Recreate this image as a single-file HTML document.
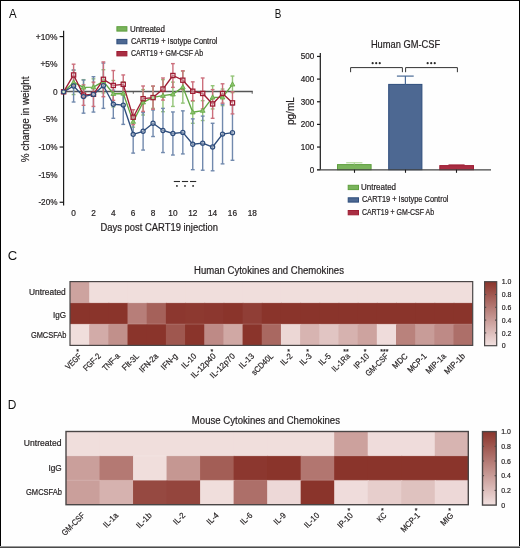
<!DOCTYPE html>
<html><head><meta charset="utf-8"><style>
html,body{margin:0;padding:0;background:#fff;}
body{width:520px;height:548px;overflow:hidden;}
svg{display:block;will-change:transform;font-family:"Liberation Sans", sans-serif;}
text{stroke:#231f20;stroke-width:0.2px;}
</style></head><body>
<svg width="520" height="548" viewBox="0 0 520 548">
<rect x="0" y="0" width="520" height="548" fill="#fefefe"/>
<text x="9.1" y="17.7" font-size="12.4" fill="#111" textLength="7.65" lengthAdjust="spacingAndGlyphs" style="stroke:none">A</text>
<line x1="63.6" y1="30.8" x2="63.6" y2="205.4" stroke="#1a1a1a" stroke-width="1.2" />
<line x1="59.6" y1="36.57" x2="63.6" y2="36.57" stroke="#1a1a1a" stroke-width="1.2" />
<line x1="59.6" y1="147.03" x2="63.6" y2="147.03" stroke="#1a1a1a" stroke-width="1.2" />
<line x1="59.6" y1="202.26" x2="63.6" y2="202.26" stroke="#1a1a1a" stroke-width="1.2" />
<text x="57.5" y="39.57" font-size="8.7" text-anchor="end" fill="#231f20" textLength="21.73" lengthAdjust="spacingAndGlyphs" >+10%</text>
<text x="57.5" y="67.19" font-size="8.7" text-anchor="end" fill="#231f20" textLength="17.11" lengthAdjust="spacingAndGlyphs" >+5%</text>
<text x="57.5" y="94.8" font-size="8.7" text-anchor="end" fill="#231f20" textLength="4.62" lengthAdjust="spacingAndGlyphs" >0</text>
<text x="57.5" y="122.41" font-size="8.7" text-anchor="end" fill="#231f20" textLength="14.51" lengthAdjust="spacingAndGlyphs" >-5%</text>
<text x="57.5" y="150.03" font-size="8.7" text-anchor="end" fill="#231f20" textLength="19.12" lengthAdjust="spacingAndGlyphs" >-10%</text>
<text x="57.5" y="177.64" font-size="8.7" text-anchor="end" fill="#231f20" textLength="19.12" lengthAdjust="spacingAndGlyphs" >-15%</text>
<text x="57.5" y="205.26" font-size="8.7" text-anchor="end" fill="#231f20" textLength="19.12" lengthAdjust="spacingAndGlyphs" >-20%</text>
<text x="73.6" y="216.1" font-size="8.6" text-anchor="middle" fill="#231f20" textLength="4.62" lengthAdjust="spacingAndGlyphs" >0</text>
<text x="93.46" y="216.1" font-size="8.6" text-anchor="middle" fill="#231f20" textLength="4.62" lengthAdjust="spacingAndGlyphs" >2</text>
<text x="113.32" y="216.1" font-size="8.6" text-anchor="middle" fill="#231f20" textLength="4.62" lengthAdjust="spacingAndGlyphs" >4</text>
<text x="133.18" y="216.1" font-size="8.6" text-anchor="middle" fill="#231f20" textLength="4.62" lengthAdjust="spacingAndGlyphs" >6</text>
<text x="153.04" y="216.1" font-size="8.6" text-anchor="middle" fill="#231f20" textLength="4.62" lengthAdjust="spacingAndGlyphs" >8</text>
<text x="172.9" y="216.1" font-size="8.6" text-anchor="middle" fill="#231f20" textLength="9.23" lengthAdjust="spacingAndGlyphs" >10</text>
<text x="192.76" y="216.1" font-size="8.6" text-anchor="middle" fill="#231f20" textLength="9.23" lengthAdjust="spacingAndGlyphs" >12</text>
<text x="212.62" y="216.1" font-size="8.6" text-anchor="middle" fill="#231f20" textLength="9.23" lengthAdjust="spacingAndGlyphs" >14</text>
<text x="232.48" y="216.1" font-size="8.6" text-anchor="middle" fill="#231f20" textLength="9.23" lengthAdjust="spacingAndGlyphs" >16</text>
<text x="252.34" y="216.1" font-size="8.6" text-anchor="middle" fill="#231f20" textLength="9.23" lengthAdjust="spacingAndGlyphs" >18</text>
<text x="100.57" y="230.5" font-size="10.1" fill="#231f20" textLength="117.48" lengthAdjust="spacingAndGlyphs" >Days post CART19 injection</text>
<text transform="translate(29.3,119.35) rotate(-90)" font-size="10.1" text-anchor="middle" fill="#231f20" textLength="85.6" lengthAdjust="spacingAndGlyphs">% change in weight</text>
<line x1="63.6" y1="91.5" x2="252.8" y2="91.5" stroke="#555" stroke-width="1.3" />
<line x1="133.3" y1="91.5" x2="133.3" y2="93.8" stroke="#555" stroke-width="0.9" />
<line x1="252.2" y1="91.5" x2="252.2" y2="93.8" stroke="#555" stroke-width="0.9" />
<line x1="73.6" y1="70.26" x2="73.6" y2="94.56" stroke="#93c477" stroke-width="1.4" />
<line x1="71.7" y1="70.26" x2="75.5" y2="70.26" stroke="#93c477" stroke-width="1.4" />
<line x1="71.7" y1="94.56" x2="75.5" y2="94.56" stroke="#93c477" stroke-width="1.4" />
<line x1="83.53" y1="79.65" x2="83.53" y2="95.11" stroke="#93c477" stroke-width="1.4" />
<line x1="81.63" y1="79.65" x2="85.43" y2="79.65" stroke="#93c477" stroke-width="1.4" />
<line x1="81.63" y1="95.11" x2="85.43" y2="95.11" stroke="#93c477" stroke-width="1.4" />
<line x1="93.46" y1="78.82" x2="93.46" y2="95.39" stroke="#93c477" stroke-width="1.4" />
<line x1="91.56" y1="78.82" x2="95.36" y2="78.82" stroke="#93c477" stroke-width="1.4" />
<line x1="91.56" y1="95.39" x2="95.36" y2="95.39" stroke="#93c477" stroke-width="1.4" />
<line x1="103.39" y1="69.71" x2="103.39" y2="92.9" stroke="#93c477" stroke-width="1.4" />
<line x1="101.49" y1="69.71" x2="105.29" y2="69.71" stroke="#93c477" stroke-width="1.4" />
<line x1="101.49" y1="92.9" x2="105.29" y2="92.9" stroke="#93c477" stroke-width="1.4" />
<line x1="113.32" y1="80.48" x2="113.32" y2="106.99" stroke="#93c477" stroke-width="1.4" />
<line x1="111.42" y1="80.48" x2="115.22" y2="80.48" stroke="#93c477" stroke-width="1.4" />
<line x1="111.42" y1="106.99" x2="115.22" y2="106.99" stroke="#93c477" stroke-width="1.4" />
<line x1="123.25" y1="81.86" x2="123.25" y2="105.06" stroke="#93c477" stroke-width="1.4" />
<line x1="121.35" y1="81.86" x2="125.15" y2="81.86" stroke="#93c477" stroke-width="1.4" />
<line x1="121.35" y1="105.06" x2="125.15" y2="105.06" stroke="#93c477" stroke-width="1.4" />
<line x1="133.18" y1="116.1" x2="133.18" y2="127.15" stroke="#93c477" stroke-width="1.4" />
<line x1="131.28" y1="116.1" x2="135.08" y2="116.1" stroke="#93c477" stroke-width="1.4" />
<line x1="131.28" y1="127.15" x2="135.08" y2="127.15" stroke="#93c477" stroke-width="1.4" />
<line x1="143.11" y1="89.59" x2="143.11" y2="115" stroke="#93c477" stroke-width="1.4" />
<line x1="141.21" y1="89.59" x2="145.01" y2="89.59" stroke="#93c477" stroke-width="1.4" />
<line x1="141.21" y1="115" x2="145.01" y2="115" stroke="#93c477" stroke-width="1.4" />
<line x1="153.04" y1="86.28" x2="153.04" y2="108.37" stroke="#93c477" stroke-width="1.4" />
<line x1="151.14" y1="86.28" x2="154.94" y2="86.28" stroke="#93c477" stroke-width="1.4" />
<line x1="151.14" y1="108.37" x2="154.94" y2="108.37" stroke="#93c477" stroke-width="1.4" />
<line x1="162.97" y1="79.65" x2="162.97" y2="111.68" stroke="#93c477" stroke-width="1.4" />
<line x1="161.07" y1="79.65" x2="164.87" y2="79.65" stroke="#93c477" stroke-width="1.4" />
<line x1="161.07" y1="111.68" x2="164.87" y2="111.68" stroke="#93c477" stroke-width="1.4" />
<line x1="172.9" y1="82.13" x2="172.9" y2="106.44" stroke="#93c477" stroke-width="1.4" />
<line x1="171" y1="82.13" x2="174.8" y2="82.13" stroke="#93c477" stroke-width="1.4" />
<line x1="171" y1="106.44" x2="174.8" y2="106.44" stroke="#93c477" stroke-width="1.4" />
<line x1="182.83" y1="71.09" x2="182.83" y2="103.12" stroke="#93c477" stroke-width="1.4" />
<line x1="180.93" y1="71.09" x2="184.73" y2="71.09" stroke="#93c477" stroke-width="1.4" />
<line x1="180.93" y1="103.12" x2="184.73" y2="103.12" stroke="#93c477" stroke-width="1.4" />
<line x1="192.76" y1="101.19" x2="192.76" y2="123.28" stroke="#93c477" stroke-width="1.4" />
<line x1="190.86" y1="101.19" x2="194.66" y2="101.19" stroke="#93c477" stroke-width="1.4" />
<line x1="190.86" y1="123.28" x2="194.66" y2="123.28" stroke="#93c477" stroke-width="1.4" />
<line x1="202.69" y1="100.64" x2="202.69" y2="120.52" stroke="#93c477" stroke-width="1.4" />
<line x1="200.79" y1="100.64" x2="204.59" y2="100.64" stroke="#93c477" stroke-width="1.4" />
<line x1="200.79" y1="120.52" x2="204.59" y2="120.52" stroke="#93c477" stroke-width="1.4" />
<line x1="212.62" y1="85.72" x2="212.62" y2="108.92" stroke="#93c477" stroke-width="1.4" />
<line x1="210.72" y1="85.72" x2="214.52" y2="85.72" stroke="#93c477" stroke-width="1.4" />
<line x1="210.72" y1="108.92" x2="214.52" y2="108.92" stroke="#93c477" stroke-width="1.4" />
<line x1="222.55" y1="89.04" x2="222.55" y2="105.61" stroke="#93c477" stroke-width="1.4" />
<line x1="220.65" y1="89.04" x2="224.45" y2="89.04" stroke="#93c477" stroke-width="1.4" />
<line x1="220.65" y1="105.61" x2="224.45" y2="105.61" stroke="#93c477" stroke-width="1.4" />
<line x1="232.48" y1="76.06" x2="232.48" y2="92.63" stroke="#93c477" stroke-width="1.4" />
<line x1="230.58" y1="76.06" x2="234.38" y2="76.06" stroke="#93c477" stroke-width="1.4" />
<line x1="230.58" y1="92.63" x2="234.38" y2="92.63" stroke="#93c477" stroke-width="1.4" />
<line x1="73.6" y1="69.98" x2="73.6" y2="102.02" stroke="#7189ad" stroke-width="1.4" />
<line x1="71.7" y1="69.98" x2="75.5" y2="69.98" stroke="#7189ad" stroke-width="1.4" />
<line x1="71.7" y1="102.02" x2="75.5" y2="102.02" stroke="#7189ad" stroke-width="1.4" />
<line x1="83.53" y1="80.04" x2="83.53" y2="113.17" stroke="#7189ad" stroke-width="1.4" />
<line x1="81.63" y1="80.04" x2="85.43" y2="80.04" stroke="#7189ad" stroke-width="1.4" />
<line x1="81.63" y1="113.17" x2="85.43" y2="113.17" stroke="#7189ad" stroke-width="1.4" />
<line x1="93.46" y1="76.72" x2="93.46" y2="112.07" stroke="#7189ad" stroke-width="1.4" />
<line x1="91.56" y1="76.72" x2="95.36" y2="76.72" stroke="#7189ad" stroke-width="1.4" />
<line x1="91.56" y1="112.07" x2="95.36" y2="112.07" stroke="#7189ad" stroke-width="1.4" />
<line x1="103.39" y1="63.08" x2="103.39" y2="108.37" stroke="#7189ad" stroke-width="1.4" />
<line x1="101.49" y1="63.08" x2="105.29" y2="63.08" stroke="#7189ad" stroke-width="1.4" />
<line x1="101.49" y1="108.37" x2="105.29" y2="108.37" stroke="#7189ad" stroke-width="1.4" />
<line x1="113.32" y1="90.14" x2="113.32" y2="118.31" stroke="#7189ad" stroke-width="1.4" />
<line x1="111.42" y1="90.14" x2="115.22" y2="90.14" stroke="#7189ad" stroke-width="1.4" />
<line x1="111.42" y1="118.31" x2="115.22" y2="118.31" stroke="#7189ad" stroke-width="1.4" />
<line x1="123.25" y1="85.72" x2="123.25" y2="124.39" stroke="#7189ad" stroke-width="1.4" />
<line x1="121.35" y1="85.72" x2="125.15" y2="85.72" stroke="#7189ad" stroke-width="1.4" />
<line x1="121.35" y1="124.39" x2="125.15" y2="124.39" stroke="#7189ad" stroke-width="1.4" />
<line x1="133.18" y1="115.55" x2="133.18" y2="153.11" stroke="#7189ad" stroke-width="1.4" />
<line x1="131.28" y1="115.55" x2="135.08" y2="115.55" stroke="#7189ad" stroke-width="1.4" />
<line x1="131.28" y1="153.11" x2="135.08" y2="153.11" stroke="#7189ad" stroke-width="1.4" />
<line x1="143.11" y1="112.51" x2="143.11" y2="150.07" stroke="#7189ad" stroke-width="1.4" />
<line x1="141.21" y1="112.51" x2="145.01" y2="112.51" stroke="#7189ad" stroke-width="1.4" />
<line x1="141.21" y1="150.07" x2="145.01" y2="150.07" stroke="#7189ad" stroke-width="1.4" />
<line x1="153.04" y1="110.03" x2="153.04" y2="136.54" stroke="#7189ad" stroke-width="1.4" />
<line x1="151.14" y1="110.03" x2="154.94" y2="110.03" stroke="#7189ad" stroke-width="1.4" />
<line x1="151.14" y1="136.54" x2="154.94" y2="136.54" stroke="#7189ad" stroke-width="1.4" />
<line x1="162.97" y1="108.37" x2="162.97" y2="152.55" stroke="#7189ad" stroke-width="1.4" />
<line x1="161.07" y1="108.37" x2="164.87" y2="108.37" stroke="#7189ad" stroke-width="1.4" />
<line x1="161.07" y1="152.55" x2="164.87" y2="152.55" stroke="#7189ad" stroke-width="1.4" />
<line x1="172.9" y1="111.96" x2="172.9" y2="155.04" stroke="#7189ad" stroke-width="1.4" />
<line x1="171" y1="111.96" x2="174.8" y2="111.96" stroke="#7189ad" stroke-width="1.4" />
<line x1="171" y1="155.04" x2="174.8" y2="155.04" stroke="#7189ad" stroke-width="1.4" />
<line x1="182.83" y1="110.85" x2="182.83" y2="153.93" stroke="#7189ad" stroke-width="1.4" />
<line x1="180.93" y1="110.85" x2="184.73" y2="110.85" stroke="#7189ad" stroke-width="1.4" />
<line x1="180.93" y1="153.93" x2="184.73" y2="153.93" stroke="#7189ad" stroke-width="1.4" />
<line x1="192.76" y1="118.86" x2="192.76" y2="169.67" stroke="#7189ad" stroke-width="1.4" />
<line x1="190.86" y1="118.86" x2="194.66" y2="118.86" stroke="#7189ad" stroke-width="1.4" />
<line x1="190.86" y1="169.67" x2="194.66" y2="169.67" stroke="#7189ad" stroke-width="1.4" />
<line x1="202.69" y1="116.1" x2="202.69" y2="170.23" stroke="#7189ad" stroke-width="1.4" />
<line x1="200.79" y1="116.1" x2="204.59" y2="116.1" stroke="#7189ad" stroke-width="1.4" />
<line x1="200.79" y1="170.23" x2="204.59" y2="170.23" stroke="#7189ad" stroke-width="1.4" />
<line x1="212.62" y1="123.28" x2="212.62" y2="170.78" stroke="#7189ad" stroke-width="1.4" />
<line x1="210.72" y1="123.28" x2="214.52" y2="123.28" stroke="#7189ad" stroke-width="1.4" />
<line x1="210.72" y1="170.78" x2="214.52" y2="170.78" stroke="#7189ad" stroke-width="1.4" />
<line x1="222.55" y1="104.23" x2="222.55" y2="163.88" stroke="#7189ad" stroke-width="1.4" />
<line x1="220.65" y1="104.23" x2="224.45" y2="104.23" stroke="#7189ad" stroke-width="1.4" />
<line x1="220.65" y1="163.88" x2="224.45" y2="163.88" stroke="#7189ad" stroke-width="1.4" />
<line x1="232.48" y1="105.06" x2="232.48" y2="160.29" stroke="#7189ad" stroke-width="1.4" />
<line x1="230.58" y1="105.06" x2="234.38" y2="105.06" stroke="#7189ad" stroke-width="1.4" />
<line x1="230.58" y1="160.29" x2="234.38" y2="160.29" stroke="#7189ad" stroke-width="1.4" />
<line x1="73.6" y1="64.19" x2="73.6" y2="85.72" stroke="#cc6f7c" stroke-width="1.4" />
<line x1="71.7" y1="64.19" x2="75.5" y2="64.19" stroke="#cc6f7c" stroke-width="1.4" />
<line x1="71.7" y1="85.72" x2="75.5" y2="85.72" stroke="#cc6f7c" stroke-width="1.4" />
<line x1="83.53" y1="84.9" x2="83.53" y2="105.33" stroke="#cc6f7c" stroke-width="1.4" />
<line x1="81.63" y1="84.9" x2="85.43" y2="84.9" stroke="#cc6f7c" stroke-width="1.4" />
<line x1="81.63" y1="105.33" x2="85.43" y2="105.33" stroke="#cc6f7c" stroke-width="1.4" />
<line x1="93.46" y1="82.13" x2="93.46" y2="106.44" stroke="#cc6f7c" stroke-width="1.4" />
<line x1="91.56" y1="82.13" x2="95.36" y2="82.13" stroke="#cc6f7c" stroke-width="1.4" />
<line x1="91.56" y1="106.44" x2="95.36" y2="106.44" stroke="#cc6f7c" stroke-width="1.4" />
<line x1="103.39" y1="61.92" x2="103.39" y2="96.72" stroke="#cc6f7c" stroke-width="1.4" />
<line x1="101.49" y1="61.92" x2="105.29" y2="61.92" stroke="#cc6f7c" stroke-width="1.4" />
<line x1="101.49" y1="96.72" x2="105.29" y2="96.72" stroke="#cc6f7c" stroke-width="1.4" />
<line x1="113.32" y1="70.54" x2="113.32" y2="100.36" stroke="#cc6f7c" stroke-width="1.4" />
<line x1="111.42" y1="70.54" x2="115.22" y2="70.54" stroke="#cc6f7c" stroke-width="1.4" />
<line x1="111.42" y1="100.36" x2="115.22" y2="100.36" stroke="#cc6f7c" stroke-width="1.4" />
<line x1="123.25" y1="74.95" x2="123.25" y2="93.73" stroke="#cc6f7c" stroke-width="1.4" />
<line x1="121.35" y1="74.95" x2="125.15" y2="74.95" stroke="#cc6f7c" stroke-width="1.4" />
<line x1="121.35" y1="93.73" x2="125.15" y2="93.73" stroke="#cc6f7c" stroke-width="1.4" />
<line x1="133.18" y1="109.75" x2="133.18" y2="124.66" stroke="#cc6f7c" stroke-width="1.4" />
<line x1="131.28" y1="109.75" x2="135.08" y2="109.75" stroke="#cc6f7c" stroke-width="1.4" />
<line x1="131.28" y1="124.66" x2="135.08" y2="124.66" stroke="#cc6f7c" stroke-width="1.4" />
<line x1="143.11" y1="86" x2="143.11" y2="111.41" stroke="#cc6f7c" stroke-width="1.4" />
<line x1="141.21" y1="86" x2="145.01" y2="86" stroke="#cc6f7c" stroke-width="1.4" />
<line x1="141.21" y1="111.41" x2="145.01" y2="111.41" stroke="#cc6f7c" stroke-width="1.4" />
<line x1="153.04" y1="86" x2="153.04" y2="109.2" stroke="#cc6f7c" stroke-width="1.4" />
<line x1="151.14" y1="86" x2="154.94" y2="86" stroke="#cc6f7c" stroke-width="1.4" />
<line x1="151.14" y1="109.2" x2="154.94" y2="109.2" stroke="#cc6f7c" stroke-width="1.4" />
<line x1="162.97" y1="77.99" x2="162.97" y2="100.08" stroke="#cc6f7c" stroke-width="1.4" />
<line x1="161.07" y1="77.99" x2="164.87" y2="77.99" stroke="#cc6f7c" stroke-width="1.4" />
<line x1="161.07" y1="100.08" x2="164.87" y2="100.08" stroke="#cc6f7c" stroke-width="1.4" />
<line x1="172.9" y1="63.63" x2="172.9" y2="87.38" stroke="#cc6f7c" stroke-width="1.4" />
<line x1="171" y1="63.63" x2="174.8" y2="63.63" stroke="#cc6f7c" stroke-width="1.4" />
<line x1="171" y1="87.38" x2="174.8" y2="87.38" stroke="#cc6f7c" stroke-width="1.4" />
<line x1="182.83" y1="70.81" x2="182.83" y2="89.59" stroke="#cc6f7c" stroke-width="1.4" />
<line x1="180.93" y1="70.81" x2="184.73" y2="70.81" stroke="#cc6f7c" stroke-width="1.4" />
<line x1="180.93" y1="89.59" x2="184.73" y2="89.59" stroke="#cc6f7c" stroke-width="1.4" />
<line x1="192.76" y1="81.86" x2="192.76" y2="100.64" stroke="#cc6f7c" stroke-width="1.4" />
<line x1="190.86" y1="81.86" x2="194.66" y2="81.86" stroke="#cc6f7c" stroke-width="1.4" />
<line x1="190.86" y1="100.64" x2="194.66" y2="100.64" stroke="#cc6f7c" stroke-width="1.4" />
<line x1="202.69" y1="77.99" x2="202.69" y2="108.92" stroke="#cc6f7c" stroke-width="1.4" />
<line x1="200.79" y1="77.99" x2="204.59" y2="77.99" stroke="#cc6f7c" stroke-width="1.4" />
<line x1="200.79" y1="108.92" x2="204.59" y2="108.92" stroke="#cc6f7c" stroke-width="1.4" />
<line x1="212.62" y1="89.59" x2="212.62" y2="118.31" stroke="#cc6f7c" stroke-width="1.4" />
<line x1="210.72" y1="89.59" x2="214.52" y2="89.59" stroke="#cc6f7c" stroke-width="1.4" />
<line x1="210.72" y1="118.31" x2="214.52" y2="118.31" stroke="#cc6f7c" stroke-width="1.4" />
<line x1="222.55" y1="83.79" x2="222.55" y2="103.12" stroke="#cc6f7c" stroke-width="1.4" />
<line x1="220.65" y1="83.79" x2="224.45" y2="83.79" stroke="#cc6f7c" stroke-width="1.4" />
<line x1="220.65" y1="103.12" x2="224.45" y2="103.12" stroke="#cc6f7c" stroke-width="1.4" />
<line x1="232.48" y1="91.8" x2="232.48" y2="113.89" stroke="#cc6f7c" stroke-width="1.4" />
<line x1="230.58" y1="91.8" x2="234.38" y2="91.8" stroke="#cc6f7c" stroke-width="1.4" />
<line x1="230.58" y1="113.89" x2="234.38" y2="113.89" stroke="#cc6f7c" stroke-width="1.4" />
<polyline points="63.6,91.8 73.6,82.41 83.53,87.38 93.46,87.11 103.39,81.31 113.32,93.73 123.25,93.46 133.18,121.62 143.11,102.29 153.04,97.32 162.97,95.67 172.9,94.29 182.83,87.11 192.76,112.24 202.69,110.58 212.62,97.32 222.55,97.32 232.48,84.34" fill="none" stroke="#62a744" stroke-width="1.35" stroke-linejoin="round"/>
<polyline points="63.6,91.8 73.6,74.95 83.53,95.11 93.46,94.29 103.39,79.32 113.32,85.45 123.25,84.34 133.18,117.21 143.11,98.7 153.04,97.6 162.97,89.04 172.9,75.51 182.83,80.2 192.76,91.25 202.69,93.46 212.62,103.95 222.55,93.46 232.48,102.85" fill="none" stroke="#9e1d33" stroke-width="1.35" stroke-linejoin="round"/>
<polyline points="63.6,91.8 73.6,86 83.53,96.61 93.46,94.4 103.39,85.72 113.32,104.23 123.25,105.06 133.18,134.33 143.11,131.29 153.04,123.28 162.97,130.46 172.9,133.5 182.83,132.39 192.76,144.27 202.69,143.16 212.62,147.03 222.55,134.05 232.48,132.67" fill="none" stroke="#2e4d7c" stroke-width="1.35" stroke-linejoin="round"/>
<path d="M63.6,89.3 L66,93.5 L61.2,93.5 Z" fill="#8cc46c" stroke="#62a744" stroke-width="0.8"/>
<path d="M73.6,79.91 L76,84.11 L71.2,84.11 Z" fill="#8cc46c" stroke="#62a744" stroke-width="0.8"/>
<path d="M83.53,84.88 L85.93,89.08 L81.13,89.08 Z" fill="#8cc46c" stroke="#62a744" stroke-width="0.8"/>
<path d="M93.46,84.61 L95.86,88.81 L91.06,88.81 Z" fill="#8cc46c" stroke="#62a744" stroke-width="0.8"/>
<path d="M103.39,78.81 L105.79,83.01 L100.99,83.01 Z" fill="#8cc46c" stroke="#62a744" stroke-width="0.8"/>
<path d="M113.32,91.23 L115.72,95.43 L110.92,95.43 Z" fill="#8cc46c" stroke="#62a744" stroke-width="0.8"/>
<path d="M123.25,90.96 L125.65,95.16 L120.85,95.16 Z" fill="#8cc46c" stroke="#62a744" stroke-width="0.8"/>
<path d="M133.18,119.12 L135.58,123.32 L130.78,123.32 Z" fill="#8cc46c" stroke="#62a744" stroke-width="0.8"/>
<path d="M143.11,99.79 L145.51,103.99 L140.71,103.99 Z" fill="#8cc46c" stroke="#62a744" stroke-width="0.8"/>
<path d="M153.04,94.82 L155.44,99.02 L150.64,99.02 Z" fill="#8cc46c" stroke="#62a744" stroke-width="0.8"/>
<path d="M162.97,93.17 L165.37,97.37 L160.57,97.37 Z" fill="#8cc46c" stroke="#62a744" stroke-width="0.8"/>
<path d="M172.9,91.79 L175.3,95.99 L170.5,95.99 Z" fill="#8cc46c" stroke="#62a744" stroke-width="0.8"/>
<path d="M182.83,84.61 L185.23,88.81 L180.43,88.81 Z" fill="#8cc46c" stroke="#62a744" stroke-width="0.8"/>
<path d="M192.76,109.74 L195.16,113.94 L190.36,113.94 Z" fill="#8cc46c" stroke="#62a744" stroke-width="0.8"/>
<path d="M202.69,108.08 L205.09,112.28 L200.29,112.28 Z" fill="#8cc46c" stroke="#62a744" stroke-width="0.8"/>
<path d="M212.62,94.82 L215.02,99.02 L210.22,99.02 Z" fill="#8cc46c" stroke="#62a744" stroke-width="0.8"/>
<path d="M222.55,94.82 L224.95,99.02 L220.15,99.02 Z" fill="#8cc46c" stroke="#62a744" stroke-width="0.8"/>
<path d="M232.48,81.84 L234.88,86.04 L230.08,86.04 Z" fill="#8cc46c" stroke="#62a744" stroke-width="0.8"/>
<rect x="61.5" y="89.7" width="4.2" height="4.2" fill="#fff" fill-opacity="0.4" stroke="#9e1d33" stroke-width="1.25"/>
<rect x="71.5" y="72.85" width="4.2" height="4.2" fill="#fff" fill-opacity="0.4" stroke="#9e1d33" stroke-width="1.25"/>
<rect x="81.43" y="93.01" width="4.2" height="4.2" fill="#fff" fill-opacity="0.4" stroke="#9e1d33" stroke-width="1.25"/>
<rect x="91.36" y="92.19" width="4.2" height="4.2" fill="#fff" fill-opacity="0.4" stroke="#9e1d33" stroke-width="1.25"/>
<rect x="101.29" y="77.22" width="4.2" height="4.2" fill="#fff" fill-opacity="0.4" stroke="#9e1d33" stroke-width="1.25"/>
<rect x="111.22" y="83.35" width="4.2" height="4.2" fill="#fff" fill-opacity="0.4" stroke="#9e1d33" stroke-width="1.25"/>
<rect x="121.15" y="82.24" width="4.2" height="4.2" fill="#fff" fill-opacity="0.4" stroke="#9e1d33" stroke-width="1.25"/>
<rect x="131.08" y="115.11" width="4.2" height="4.2" fill="#fff" fill-opacity="0.4" stroke="#9e1d33" stroke-width="1.25"/>
<rect x="141.01" y="96.6" width="4.2" height="4.2" fill="#fff" fill-opacity="0.4" stroke="#9e1d33" stroke-width="1.25"/>
<rect x="150.94" y="95.5" width="4.2" height="4.2" fill="#fff" fill-opacity="0.4" stroke="#9e1d33" stroke-width="1.25"/>
<rect x="160.87" y="86.94" width="4.2" height="4.2" fill="#fff" fill-opacity="0.4" stroke="#9e1d33" stroke-width="1.25"/>
<rect x="170.8" y="73.41" width="4.2" height="4.2" fill="#fff" fill-opacity="0.4" stroke="#9e1d33" stroke-width="1.25"/>
<rect x="180.73" y="78.1" width="4.2" height="4.2" fill="#fff" fill-opacity="0.4" stroke="#9e1d33" stroke-width="1.25"/>
<rect x="190.66" y="89.15" width="4.2" height="4.2" fill="#fff" fill-opacity="0.4" stroke="#9e1d33" stroke-width="1.25"/>
<rect x="200.59" y="91.36" width="4.2" height="4.2" fill="#fff" fill-opacity="0.4" stroke="#9e1d33" stroke-width="1.25"/>
<rect x="210.52" y="101.85" width="4.2" height="4.2" fill="#fff" fill-opacity="0.4" stroke="#9e1d33" stroke-width="1.25"/>
<rect x="220.45" y="91.36" width="4.2" height="4.2" fill="#fff" fill-opacity="0.4" stroke="#9e1d33" stroke-width="1.25"/>
<rect x="230.38" y="100.75" width="4.2" height="4.2" fill="#fff" fill-opacity="0.4" stroke="#9e1d33" stroke-width="1.25"/>
<circle cx="63.6" cy="91.8" r="2.05" fill="#fff" fill-opacity="0.4" stroke="#2e4d7c" stroke-width="1.25"/>
<circle cx="73.6" cy="86" r="2.05" fill="#fff" fill-opacity="0.4" stroke="#2e4d7c" stroke-width="1.25"/>
<circle cx="83.53" cy="96.61" r="2.05" fill="#fff" fill-opacity="0.4" stroke="#2e4d7c" stroke-width="1.25"/>
<circle cx="93.46" cy="94.4" r="2.05" fill="#fff" fill-opacity="0.4" stroke="#2e4d7c" stroke-width="1.25"/>
<circle cx="103.39" cy="85.72" r="2.05" fill="#fff" fill-opacity="0.4" stroke="#2e4d7c" stroke-width="1.25"/>
<circle cx="113.32" cy="104.23" r="2.05" fill="#fff" fill-opacity="0.4" stroke="#2e4d7c" stroke-width="1.25"/>
<circle cx="123.25" cy="105.06" r="2.05" fill="#fff" fill-opacity="0.4" stroke="#2e4d7c" stroke-width="1.25"/>
<circle cx="133.18" cy="134.33" r="2.05" fill="#fff" fill-opacity="0.4" stroke="#2e4d7c" stroke-width="1.25"/>
<circle cx="143.11" cy="131.29" r="2.05" fill="#fff" fill-opacity="0.4" stroke="#2e4d7c" stroke-width="1.25"/>
<circle cx="153.04" cy="123.28" r="2.05" fill="#fff" fill-opacity="0.4" stroke="#2e4d7c" stroke-width="1.25"/>
<circle cx="162.97" cy="130.46" r="2.05" fill="#fff" fill-opacity="0.4" stroke="#2e4d7c" stroke-width="1.25"/>
<circle cx="172.9" cy="133.5" r="2.05" fill="#fff" fill-opacity="0.4" stroke="#2e4d7c" stroke-width="1.25"/>
<circle cx="182.83" cy="132.39" r="2.05" fill="#fff" fill-opacity="0.4" stroke="#2e4d7c" stroke-width="1.25"/>
<circle cx="192.76" cy="144.27" r="2.05" fill="#fff" fill-opacity="0.4" stroke="#2e4d7c" stroke-width="1.25"/>
<circle cx="202.69" cy="143.16" r="2.05" fill="#fff" fill-opacity="0.4" stroke="#2e4d7c" stroke-width="1.25"/>
<circle cx="212.62" cy="147.03" r="2.05" fill="#fff" fill-opacity="0.4" stroke="#2e4d7c" stroke-width="1.25"/>
<circle cx="222.55" cy="134.05" r="2.05" fill="#fff" fill-opacity="0.4" stroke="#2e4d7c" stroke-width="1.25"/>
<circle cx="232.48" cy="132.67" r="2.05" fill="#fff" fill-opacity="0.4" stroke="#2e4d7c" stroke-width="1.25"/>
<line x1="173.8" y1="181.5" x2="180" y2="181.5" stroke="#2a2a2a" stroke-width="1.1" />
<circle cx="176.9" cy="185.9" r="0.95" fill="#2a2a2a"/>
<line x1="181.9" y1="181.5" x2="188.1" y2="181.5" stroke="#2a2a2a" stroke-width="1.1" />
<circle cx="185" cy="185.9" r="0.95" fill="#2a2a2a"/>
<line x1="190" y1="181.5" x2="196.2" y2="181.5" stroke="#2a2a2a" stroke-width="1.1" />
<circle cx="193.1" cy="185.9" r="0.95" fill="#2a2a2a"/>
<rect x="116.9" y="26.7" width="10" height="4.4" fill="#79b35b" stroke="#5e9f3e" stroke-width="1" />
<text x="129.95" y="31.9" font-size="8.4" fill="#231f20" textLength="34.99" lengthAdjust="spacingAndGlyphs" >Untreated</text>
<rect x="116.9" y="39.4" width="10" height="4.4" fill="#4d6892" stroke="#2e4d7c" stroke-width="1" />
<text x="130.9" y="44.1" font-size="8.4" fill="#231f20" textLength="86.53" lengthAdjust="spacingAndGlyphs" >CART19 + Isotype Control</text>
<rect x="116.9" y="51.5" width="10" height="4.4" fill="#a92e43" stroke="#9e1d33" stroke-width="1" />
<text x="130.9" y="56.4" font-size="8.4" fill="#231f20" textLength="72.25" lengthAdjust="spacingAndGlyphs" >CART19 + GM-CSF Ab</text>
<text x="274.8" y="17.6" font-size="12.4" fill="#111" textLength="6.61" lengthAdjust="spacingAndGlyphs" style="stroke:none">B</text>
<text x="370.88" y="47.8" font-size="10.1" fill="#231f20" textLength="69.27" lengthAdjust="spacingAndGlyphs" >Human GM-CSF</text>
<line x1="320.3" y1="53" x2="320.3" y2="169.7" stroke="#1a1a1a" stroke-width="1.2" />
<line x1="317" y1="169.7" x2="320.3" y2="169.7" stroke="#1a1a1a" stroke-width="1.2" />
<text x="314.2" y="172.6" font-size="8.3" text-anchor="end" fill="#231f20" textLength="4.51" lengthAdjust="spacingAndGlyphs" >0</text>
<line x1="317" y1="147.05" x2="320.3" y2="147.05" stroke="#1a1a1a" stroke-width="1.2" />
<text x="314.2" y="149.95" font-size="8.3" text-anchor="end" fill="#231f20" textLength="13.54" lengthAdjust="spacingAndGlyphs" >100</text>
<line x1="317" y1="124.4" x2="320.3" y2="124.4" stroke="#1a1a1a" stroke-width="1.2" />
<text x="314.2" y="127.3" font-size="8.3" text-anchor="end" fill="#231f20" textLength="13.54" lengthAdjust="spacingAndGlyphs" >200</text>
<line x1="317" y1="101.75" x2="320.3" y2="101.75" stroke="#1a1a1a" stroke-width="1.2" />
<text x="314.2" y="104.65" font-size="8.3" text-anchor="end" fill="#231f20" textLength="13.54" lengthAdjust="spacingAndGlyphs" >300</text>
<line x1="317" y1="79.1" x2="320.3" y2="79.1" stroke="#1a1a1a" stroke-width="1.2" />
<text x="314.2" y="82" font-size="8.3" text-anchor="end" fill="#231f20" textLength="13.54" lengthAdjust="spacingAndGlyphs" >400</text>
<line x1="317" y1="56.45" x2="320.3" y2="56.45" stroke="#1a1a1a" stroke-width="1.2" />
<text x="314.2" y="59.35" font-size="8.3" text-anchor="end" fill="#231f20" textLength="13.54" lengthAdjust="spacingAndGlyphs" >500</text>
<text transform="translate(293.7,111.1) rotate(-90)" font-size="10.1" text-anchor="middle" fill="#231f20" textLength="28" lengthAdjust="spacingAndGlyphs">pg/mL</text>
<rect x="337.5" y="164.6" width="33.6" height="5.1" fill="#7ab45c" stroke="#5e9f3e" stroke-width="1" />
<rect x="388.7" y="84.4" width="33.2" height="85.3" fill="#4d6892" stroke="#2e4d7c" stroke-width="1" />
<rect x="439.8" y="165.6" width="33.7" height="4.1" fill="#a92e43" stroke="#9e1d33" stroke-width="1" />
<line x1="354.3" y1="164.5" x2="354.3" y2="162.8" stroke="#a5d08b" stroke-width="1" />
<line x1="346.2" y1="162.8" x2="362.4" y2="162.8" stroke="#a5d08b" stroke-width="1" />
<line x1="405.4" y1="84.4" x2="405.4" y2="76.1" stroke="#4a6a96" stroke-width="1.2" />
<line x1="396.9" y1="76.1" x2="413.7" y2="76.1" stroke="#4a6a96" stroke-width="1.2" />
<line x1="448.5" y1="164.9" x2="464.6" y2="164.9" stroke="#9e1d33" stroke-width="1" />
<line x1="317" y1="169.8" x2="491" y2="169.8" stroke="#444" stroke-width="1.35" />
<line x1="354.5" y1="169.7" x2="354.5" y2="172.8" stroke="#1a1a1a" stroke-width="1.1" />
<line x1="405.5" y1="169.7" x2="405.5" y2="172.8" stroke="#1a1a1a" stroke-width="1.1" />
<line x1="456.5" y1="169.7" x2="456.5" y2="172.8" stroke="#1a1a1a" stroke-width="1.1" />
<path d="M350.6,72.2 V67.6 H402.4 V72.2" fill="none" stroke="#333" stroke-width="1"/>
<path d="M405.6,72.2 V67.6 H457.4 V72.2" fill="none" stroke="#333" stroke-width="1"/>
<circle cx="372.65" cy="63.2" r="1.1" fill="#2a2a2a"/>
<circle cx="376.2" cy="63.2" r="1.1" fill="#2a2a2a"/>
<circle cx="379.75" cy="63.2" r="1.1" fill="#2a2a2a"/>
<circle cx="427.65" cy="63.2" r="1.1" fill="#2a2a2a"/>
<circle cx="431.2" cy="63.2" r="1.1" fill="#2a2a2a"/>
<circle cx="434.75" cy="63.2" r="1.1" fill="#2a2a2a"/>
<rect x="348.2" y="185.3" width="10.3" height="4.3" fill="#79b35b" stroke="#5e9f3e" stroke-width="1" />
<text x="360.95" y="189.9" font-size="8.4" fill="#231f20" textLength="35.1" lengthAdjust="spacingAndGlyphs" >Untreated</text>
<rect x="348.2" y="197.8" width="10.3" height="4.3" fill="#4d6892" stroke="#2e4d7c" stroke-width="1" />
<text x="361.9" y="202.3" font-size="8.4" fill="#231f20" textLength="86.53" lengthAdjust="spacingAndGlyphs" >CART19 + Isotype Control</text>
<rect x="348.2" y="210.5" width="10.3" height="4.3" fill="#a92e43" stroke="#9e1d33" stroke-width="1" />
<text x="361.9" y="214.6" font-size="8.4" fill="#231f20" textLength="72.25" lengthAdjust="spacingAndGlyphs" >CART19 + GM-CSF Ab</text>
<text x="7.74" y="259.6" font-size="12.4" fill="#111" textLength="9.46" lengthAdjust="spacingAndGlyphs" style="stroke:none">C</text>
<text x="194.04" y="274.3" font-size="10" fill="#231f20" textLength="149.92" lengthAdjust="spacingAndGlyphs" >Human Cytokines and Chemokines</text>
<rect x="70" y="281.6" width="20.18" height="22.27" fill="#cda39f" />
<rect x="89.18" y="281.6" width="20.18" height="22.27" fill="#f0dedc" />
<rect x="108.35" y="281.6" width="20.18" height="22.27" fill="#f0dedc" />
<rect x="127.53" y="281.6" width="20.18" height="22.27" fill="#f0dedc" />
<rect x="146.7" y="281.6" width="20.18" height="22.27" fill="#f0dedc" />
<rect x="165.88" y="281.6" width="20.18" height="22.27" fill="#f0dedc" />
<rect x="185.06" y="281.6" width="20.18" height="22.27" fill="#f0dedc" />
<rect x="204.23" y="281.6" width="20.18" height="22.27" fill="#f0dedc" />
<rect x="223.41" y="281.6" width="20.18" height="22.27" fill="#f0dedc" />
<rect x="242.59" y="281.6" width="20.18" height="22.27" fill="#f0dedc" />
<rect x="261.76" y="281.6" width="20.18" height="22.27" fill="#f0dedc" />
<rect x="280.94" y="281.6" width="20.18" height="22.27" fill="#f0dedc" />
<rect x="300.11" y="281.6" width="20.18" height="22.27" fill="#f0dedc" />
<rect x="319.29" y="281.6" width="20.18" height="22.27" fill="#f0dedc" />
<rect x="338.47" y="281.6" width="20.18" height="22.27" fill="#f0dedc" />
<rect x="357.64" y="281.6" width="20.18" height="22.27" fill="#f0dedc" />
<rect x="376.82" y="281.6" width="20.18" height="22.27" fill="#f0dedc" />
<rect x="396" y="281.6" width="20.18" height="22.27" fill="#f0dedc" />
<rect x="415.17" y="281.6" width="20.18" height="22.27" fill="#f0dedc" />
<rect x="434.35" y="281.6" width="20.18" height="22.27" fill="#f0dedc" />
<rect x="453.52" y="281.6" width="19.18" height="22.27" fill="#f0dedc" />
<rect x="70" y="302.87" width="20.18" height="22.27" fill="#8a342b" />
<rect x="89.18" y="302.87" width="20.18" height="22.27" fill="#8a342b" />
<rect x="108.35" y="302.87" width="20.18" height="22.27" fill="#8a342b" />
<rect x="127.53" y="302.87" width="20.18" height="22.27" fill="#b77e79" />
<rect x="146.7" y="302.87" width="20.18" height="22.27" fill="#a5615a" />
<rect x="165.88" y="302.87" width="20.18" height="22.27" fill="#8c372f" />
<rect x="185.06" y="302.87" width="20.18" height="22.27" fill="#8d3930" />
<rect x="204.23" y="302.87" width="20.18" height="22.27" fill="#8c372f" />
<rect x="223.41" y="302.87" width="20.18" height="22.27" fill="#8a342b" />
<rect x="242.59" y="302.87" width="20.18" height="22.27" fill="#903e36" />
<rect x="261.76" y="302.87" width="20.18" height="22.27" fill="#8a342b" />
<rect x="280.94" y="302.87" width="20.18" height="22.27" fill="#8a342b" />
<rect x="300.11" y="302.87" width="20.18" height="22.27" fill="#8a342b" />
<rect x="319.29" y="302.87" width="20.18" height="22.27" fill="#8a342b" />
<rect x="338.47" y="302.87" width="20.18" height="22.27" fill="#8a342b" />
<rect x="357.64" y="302.87" width="20.18" height="22.27" fill="#8a342b" />
<rect x="376.82" y="302.87" width="20.18" height="22.27" fill="#8a342b" />
<rect x="396" y="302.87" width="20.18" height="22.27" fill="#8a342b" />
<rect x="415.17" y="302.87" width="20.18" height="22.27" fill="#8a342b" />
<rect x="434.35" y="302.87" width="20.18" height="22.27" fill="#8a342b" />
<rect x="453.52" y="302.87" width="19.18" height="22.27" fill="#8a342b" />
<rect x="70" y="324.13" width="20.18" height="21.27" fill="#f0dedc" />
<rect x="89.18" y="324.13" width="20.18" height="21.27" fill="#d2aba8" />
<rect x="108.35" y="324.13" width="20.18" height="21.27" fill="#c1908b" />
<rect x="127.53" y="324.13" width="20.18" height="21.27" fill="#8a342b" />
<rect x="146.7" y="324.13" width="20.18" height="21.27" fill="#8a342b" />
<rect x="165.88" y="324.13" width="20.18" height="21.27" fill="#9f574f" />
<rect x="185.06" y="324.13" width="20.18" height="21.27" fill="#8a342b" />
<rect x="204.23" y="324.13" width="20.18" height="21.27" fill="#be8a86" />
<rect x="223.41" y="324.13" width="20.18" height="21.27" fill="#d0a8a4" />
<rect x="242.59" y="324.13" width="20.18" height="21.27" fill="#8a342b" />
<rect x="261.76" y="324.13" width="20.18" height="21.27" fill="#a96861" />
<rect x="280.94" y="324.13" width="20.18" height="21.27" fill="#ecd7d5" />
<rect x="300.11" y="324.13" width="20.18" height="21.27" fill="#d7b4b1" />
<rect x="319.29" y="324.13" width="20.18" height="21.27" fill="#e1c5c3" />
<rect x="338.47" y="324.13" width="20.18" height="21.27" fill="#d6b2af" />
<rect x="357.64" y="324.13" width="20.18" height="21.27" fill="#cda39f" />
<rect x="376.82" y="324.13" width="20.18" height="21.27" fill="#efdcdb" />
<rect x="396" y="324.13" width="20.18" height="21.27" fill="#b9827c" />
<rect x="415.17" y="324.13" width="20.18" height="21.27" fill="#c89c98" />
<rect x="434.35" y="324.13" width="20.18" height="21.27" fill="#be8a86" />
<rect x="453.52" y="324.13" width="19.18" height="21.27" fill="#ad6f69" />
<line x1="70" y1="302.87" x2="472.7" y2="302.87" stroke="#ffffff" stroke-width="0.6" stroke-opacity="0.3"/>
<line x1="70" y1="324.13" x2="472.7" y2="324.13" stroke="#ffffff" stroke-width="0.6" stroke-opacity="0.3"/>
<rect x="70" y="281.6" width="402.7" height="63.8" fill="none" stroke="#4a4646" stroke-width="1.2" />
<text x="29.09" y="295" font-size="8.3" fill="#231f20" textLength="36.65" lengthAdjust="spacingAndGlyphs" >Untreated</text>
<text x="53.12" y="317.5" font-size="8.3" fill="#231f20" textLength="13.04" lengthAdjust="spacingAndGlyphs" >IgG</text>
<text x="30.9" y="338.3" font-size="8.3" fill="#231f20" textLength="35.49" lengthAdjust="spacingAndGlyphs" >GMCSFAb</text>
<defs><linearGradient id="gc" x1="0" y1="1" x2="0" y2="0"><stop offset="0" stop-color="#f2e1e0"/><stop offset="1" stop-color="#8a342b"/></linearGradient></defs>
<rect x="484.6" y="281.7" width="12.1" height="64" fill="url(#gc)" stroke="#4a4646" stroke-width="1.2" />
<line x1="484.6" y1="332.9" x2="486.2" y2="332.9" stroke="#4a4646" stroke-width="1.1" />
<line x1="495.1" y1="332.9" x2="496.7" y2="332.9" stroke="#4a4646" stroke-width="1.1" />
<line x1="484.6" y1="320.1" x2="486.2" y2="320.1" stroke="#4a4646" stroke-width="1.1" />
<line x1="495.1" y1="320.1" x2="496.7" y2="320.1" stroke="#4a4646" stroke-width="1.1" />
<line x1="484.6" y1="307.3" x2="486.2" y2="307.3" stroke="#4a4646" stroke-width="1.1" />
<line x1="495.1" y1="307.3" x2="496.7" y2="307.3" stroke="#4a4646" stroke-width="1.1" />
<line x1="484.6" y1="294.5" x2="486.2" y2="294.5" stroke="#4a4646" stroke-width="1.1" />
<line x1="495.1" y1="294.5" x2="496.7" y2="294.5" stroke="#4a4646" stroke-width="1.1" />
<text x="501.7" y="348.4" font-size="7.85" text-anchor="start" fill="#231f20" textLength="3.9" lengthAdjust="spacingAndGlyphs" >0</text>
<text x="501.7" y="335.6" font-size="7.85" text-anchor="start" fill="#231f20" textLength="9.64" lengthAdjust="spacingAndGlyphs" >0.2</text>
<text x="501.7" y="322.8" font-size="7.85" text-anchor="start" fill="#231f20" textLength="9.64" lengthAdjust="spacingAndGlyphs" >0.4</text>
<text x="501.7" y="310" font-size="7.85" text-anchor="start" fill="#231f20" textLength="9.64" lengthAdjust="spacingAndGlyphs" >0.6</text>
<text x="501.7" y="297.2" font-size="7.85" text-anchor="start" fill="#231f20" textLength="9.64" lengthAdjust="spacingAndGlyphs" >0.8</text>
<text x="501.7" y="284.4" font-size="7.85" text-anchor="start" fill="#231f20" textLength="9.64" lengthAdjust="spacingAndGlyphs" >1.0</text>
<text transform="translate(82.09,356.7) rotate(-45)" font-size="8.4" text-anchor="end" fill="#231f20" textLength="18.77" lengthAdjust="spacingAndGlyphs">VEGF</text>
<text x="77.59" y="354" font-size="7" text-anchor="middle" fill="#231f20">*</text>
<text transform="translate(101.26,356.7) rotate(-45)" font-size="8.4" text-anchor="end" fill="#231f20" textLength="20.98" lengthAdjust="spacingAndGlyphs">FGF-2</text>
<text transform="translate(120.44,356.7) rotate(-45)" font-size="8.4" text-anchor="end" fill="#231f20" textLength="20.91" lengthAdjust="spacingAndGlyphs">TNF-a</text>
<text transform="translate(139.62,356.7) rotate(-45)" font-size="8.4" text-anchor="end" fill="#231f20" textLength="20.18" lengthAdjust="spacingAndGlyphs">Flt-3L</text>
<text transform="translate(158.79,356.7) rotate(-45)" font-size="8.4" text-anchor="end" fill="#231f20" textLength="23.1" lengthAdjust="spacingAndGlyphs">IFN-2a</text>
<text transform="translate(177.97,356.7) rotate(-45)" font-size="8.4" text-anchor="end" fill="#231f20" textLength="19.35" lengthAdjust="spacingAndGlyphs">IFN-g</text>
<text transform="translate(197.15,356.7) rotate(-45)" font-size="8.4" text-anchor="end" fill="#231f20" textLength="17.58" lengthAdjust="spacingAndGlyphs">IL-10</text>
<text transform="translate(216.32,356.7) rotate(-45)" font-size="8.4" text-anchor="end" fill="#231f20" textLength="31.3" lengthAdjust="spacingAndGlyphs">IL-12p40</text>
<text x="211.82" y="354" font-size="7" text-anchor="middle" fill="#231f20">*</text>
<text transform="translate(235.5,356.7) rotate(-45)" font-size="8.4" text-anchor="end" fill="#231f20" textLength="31.3" lengthAdjust="spacingAndGlyphs">IL-12p70</text>
<text transform="translate(254.67,356.7) rotate(-45)" font-size="8.4" text-anchor="end" fill="#231f20" textLength="17.58" lengthAdjust="spacingAndGlyphs">IL-13</text>
<text transform="translate(273.85,356.7) rotate(-45)" font-size="8.4" text-anchor="end" fill="#231f20" textLength="27" lengthAdjust="spacingAndGlyphs">sCD40L</text>
<text transform="translate(293.03,356.7) rotate(-45)" font-size="8.4" text-anchor="end" fill="#231f20" textLength="13.17" lengthAdjust="spacingAndGlyphs">IL-2</text>
<text x="288.53" y="354" font-size="7" text-anchor="middle" fill="#231f20">*</text>
<text transform="translate(312.2,356.7) rotate(-45)" font-size="8.4" text-anchor="end" fill="#231f20" textLength="13.17" lengthAdjust="spacingAndGlyphs">IL-3</text>
<text x="307.7" y="354" font-size="7" text-anchor="middle" fill="#231f20">*</text>
<text transform="translate(331.38,356.7) rotate(-45)" font-size="8.4" text-anchor="end" fill="#231f20" textLength="13.17" lengthAdjust="spacingAndGlyphs">IL-5</text>
<text transform="translate(350.55,356.7) rotate(-45)" font-size="8.4" text-anchor="end" fill="#231f20" textLength="21.94" lengthAdjust="spacingAndGlyphs">IL-1Ra</text>
<text x="346.05" y="354" font-size="7" text-anchor="middle" fill="#231f20">**</text>
<text transform="translate(369.73,356.7) rotate(-45)" font-size="8.4" text-anchor="end" fill="#231f20" textLength="18.09" lengthAdjust="spacingAndGlyphs">IP-10</text>
<text x="365.23" y="354" font-size="7" text-anchor="middle" fill="#231f20">*</text>
<text transform="translate(388.91,356.7) rotate(-45)" font-size="8.4" text-anchor="end" fill="#231f20" textLength="28.53" lengthAdjust="spacingAndGlyphs">GM-CSF</text>
<text x="384.41" y="354" font-size="7" text-anchor="middle" fill="#231f20">***</text>
<text transform="translate(408.08,356.7) rotate(-45)" font-size="8.4" text-anchor="end" fill="#231f20" textLength="17.63" lengthAdjust="spacingAndGlyphs">MDC</text>
<text transform="translate(427.26,356.7) rotate(-45)" font-size="8.4" text-anchor="end" fill="#231f20" textLength="23.53" lengthAdjust="spacingAndGlyphs">MCP-1</text>
<text transform="translate(446.44,356.7) rotate(-45)" font-size="8.4" text-anchor="end" fill="#231f20" textLength="24.74" lengthAdjust="spacingAndGlyphs">MIP-1a</text>
<text transform="translate(465.61,356.7) rotate(-45)" font-size="8.4" text-anchor="end" fill="#231f20" textLength="25.49" lengthAdjust="spacingAndGlyphs">MIP-1b</text>
<text x="7.84" y="408.8" font-size="12.4" fill="#111" textLength="8.62" lengthAdjust="spacingAndGlyphs" style="stroke:none">D</text>
<text x="191.84" y="423.9" font-size="10" fill="#231f20" textLength="148.17" lengthAdjust="spacingAndGlyphs" >Mouse Cytokines and Chemokines</text>
<rect x="66" y="431.5" width="34.52" height="25.4" fill="#f0dedc" />
<rect x="99.53" y="431.5" width="34.52" height="25.4" fill="#f0dedc" />
<rect x="133.05" y="431.5" width="34.52" height="25.4" fill="#f0dedc" />
<rect x="166.57" y="431.5" width="34.52" height="25.4" fill="#f0dedc" />
<rect x="200.1" y="431.5" width="34.52" height="25.4" fill="#f0dedc" />
<rect x="233.62" y="431.5" width="34.52" height="25.4" fill="#f0dedc" />
<rect x="267.15" y="431.5" width="34.52" height="25.4" fill="#f0dedc" />
<rect x="300.67" y="431.5" width="34.52" height="25.4" fill="#f0dedc" />
<rect x="334.2" y="431.5" width="34.52" height="25.4" fill="#cca19d" />
<rect x="367.72" y="431.5" width="34.52" height="25.4" fill="#efdcdb" />
<rect x="401.25" y="431.5" width="34.52" height="25.4" fill="#efdcdb" />
<rect x="434.77" y="431.5" width="33.52" height="25.4" fill="#d7b4b1" />
<rect x="66" y="455.9" width="34.52" height="25.4" fill="#ca9f9b" />
<rect x="99.53" y="455.9" width="34.52" height="25.4" fill="#b47973" />
<rect x="133.05" y="455.9" width="34.52" height="25.4" fill="#f0dedc" />
<rect x="166.57" y="455.9" width="34.52" height="25.4" fill="#c59792" />
<rect x="200.1" y="455.9" width="34.52" height="25.4" fill="#a35e56" />
<rect x="233.62" y="455.9" width="34.52" height="25.4" fill="#8c372f" />
<rect x="267.15" y="455.9" width="34.52" height="25.4" fill="#8a342b" />
<rect x="300.67" y="455.9" width="34.52" height="25.4" fill="#b27670" />
<rect x="334.2" y="455.9" width="34.52" height="25.4" fill="#8a342b" />
<rect x="367.72" y="455.9" width="34.52" height="25.4" fill="#8a342b" />
<rect x="401.25" y="455.9" width="34.52" height="25.4" fill="#8a342b" />
<rect x="434.77" y="455.9" width="33.52" height="25.4" fill="#8a342b" />
<rect x="66" y="480.3" width="34.52" height="24.4" fill="#ca9f9b" />
<rect x="99.53" y="480.3" width="34.52" height="24.4" fill="#d6b2af" />
<rect x="133.05" y="480.3" width="34.52" height="24.4" fill="#964941" />
<rect x="166.57" y="480.3" width="34.52" height="24.4" fill="#94453d" />
<rect x="200.1" y="480.3" width="34.52" height="24.4" fill="#f0dedc" />
<rect x="233.62" y="480.3" width="34.52" height="24.4" fill="#ad6f69" />
<rect x="267.15" y="480.3" width="34.52" height="24.4" fill="#edd8d7" />
<rect x="300.67" y="480.3" width="34.52" height="24.4" fill="#8a342b" />
<rect x="334.2" y="480.3" width="34.52" height="24.4" fill="#efdcdb" />
<rect x="367.72" y="480.3" width="34.52" height="24.4" fill="#e7cecc" />
<rect x="401.25" y="480.3" width="34.52" height="24.4" fill="#dfc2bf" />
<rect x="434.77" y="480.3" width="33.52" height="24.4" fill="#edd8d7" />
<line x1="66" y1="455.9" x2="468.3" y2="455.9" stroke="#ffffff" stroke-width="0.6" stroke-opacity="0.3"/>
<line x1="66" y1="480.3" x2="468.3" y2="480.3" stroke="#ffffff" stroke-width="0.6" stroke-opacity="0.3"/>
<rect x="66" y="431.5" width="402.3" height="73.2" fill="none" stroke="#4a4646" stroke-width="1.4" />
<text x="23.87" y="446" font-size="8.3" fill="#231f20" textLength="37.58" lengthAdjust="spacingAndGlyphs" >Untreated</text>
<text x="48.51" y="470.6" font-size="8.3" fill="#231f20" textLength="13.26" lengthAdjust="spacingAndGlyphs" >IgG</text>
<text x="26" y="495.3" font-size="8.3" fill="#231f20" textLength="36" lengthAdjust="spacingAndGlyphs" >GMCSFAb</text>
<defs><linearGradient id="gd" x1="0" y1="1" x2="0" y2="0"><stop offset="0" stop-color="#f2e1e0"/><stop offset="1" stop-color="#8a342b"/></linearGradient></defs>
<rect x="482.5" y="431.6" width="13.7" height="73.5" fill="url(#gd)" stroke="#4a4646" stroke-width="1.4" />
<line x1="482.5" y1="490.4" x2="484.1" y2="490.4" stroke="#4a4646" stroke-width="1.1" />
<line x1="494.6" y1="490.4" x2="496.2" y2="490.4" stroke="#4a4646" stroke-width="1.1" />
<line x1="482.5" y1="475.7" x2="484.1" y2="475.7" stroke="#4a4646" stroke-width="1.1" />
<line x1="494.6" y1="475.7" x2="496.2" y2="475.7" stroke="#4a4646" stroke-width="1.1" />
<line x1="482.5" y1="461" x2="484.1" y2="461" stroke="#4a4646" stroke-width="1.1" />
<line x1="494.6" y1="461" x2="496.2" y2="461" stroke="#4a4646" stroke-width="1.1" />
<line x1="482.5" y1="446.3" x2="484.1" y2="446.3" stroke="#4a4646" stroke-width="1.1" />
<line x1="494.6" y1="446.3" x2="496.2" y2="446.3" stroke="#4a4646" stroke-width="1.1" />
<text x="501.2" y="507.8" font-size="7.85" text-anchor="start" fill="#231f20" textLength="3.9" lengthAdjust="spacingAndGlyphs" >0</text>
<text x="501.2" y="493.1" font-size="7.85" text-anchor="start" fill="#231f20" textLength="9.64" lengthAdjust="spacingAndGlyphs" >0.2</text>
<text x="501.2" y="478.4" font-size="7.85" text-anchor="start" fill="#231f20" textLength="9.64" lengthAdjust="spacingAndGlyphs" >0.4</text>
<text x="501.2" y="463.7" font-size="7.85" text-anchor="start" fill="#231f20" textLength="9.64" lengthAdjust="spacingAndGlyphs" >0.6</text>
<text x="501.2" y="449" font-size="7.85" text-anchor="start" fill="#231f20" textLength="9.64" lengthAdjust="spacingAndGlyphs" >0.8</text>
<text x="501.2" y="434.3" font-size="7.85" text-anchor="start" fill="#231f20" textLength="9.64" lengthAdjust="spacingAndGlyphs" >1.0</text>
<text transform="translate(85.26,516) rotate(-45)" font-size="8.4" text-anchor="end" fill="#231f20" textLength="28.53" lengthAdjust="spacingAndGlyphs">GM-CSF</text>
<text transform="translate(118.79,516) rotate(-45)" font-size="8.4" text-anchor="end" fill="#231f20" textLength="17.31" lengthAdjust="spacingAndGlyphs">IL-1a</text>
<text transform="translate(152.31,516) rotate(-45)" font-size="8.4" text-anchor="end" fill="#231f20" textLength="18.06" lengthAdjust="spacingAndGlyphs">IL-1b</text>
<text transform="translate(185.84,516) rotate(-45)" font-size="8.4" text-anchor="end" fill="#231f20" textLength="13.17" lengthAdjust="spacingAndGlyphs">IL-2</text>
<text transform="translate(219.36,516) rotate(-45)" font-size="8.4" text-anchor="end" fill="#231f20" textLength="13.17" lengthAdjust="spacingAndGlyphs">IL-4</text>
<text transform="translate(252.89,516) rotate(-45)" font-size="8.4" text-anchor="end" fill="#231f20" textLength="13.17" lengthAdjust="spacingAndGlyphs">IL-6</text>
<text transform="translate(286.41,516) rotate(-45)" font-size="8.4" text-anchor="end" fill="#231f20" textLength="13.17" lengthAdjust="spacingAndGlyphs">IL-9</text>
<text transform="translate(319.94,516) rotate(-45)" font-size="8.4" text-anchor="end" fill="#231f20" textLength="17.58" lengthAdjust="spacingAndGlyphs">IL-10</text>
<text transform="translate(353.46,516) rotate(-45)" font-size="8.4" text-anchor="end" fill="#231f20" textLength="18.09" lengthAdjust="spacingAndGlyphs">IP-10</text>
<text x="348.96" y="513.3" font-size="7" text-anchor="middle" fill="#231f20">*</text>
<text transform="translate(386.99,516) rotate(-45)" font-size="8.4" text-anchor="end" fill="#231f20" textLength="9.65" lengthAdjust="spacingAndGlyphs">KC</text>
<text x="382.49" y="513.3" font-size="7" text-anchor="middle" fill="#231f20">*</text>
<text transform="translate(420.51,516) rotate(-45)" font-size="8.4" text-anchor="end" fill="#231f20" textLength="23.53" lengthAdjust="spacingAndGlyphs">MCP-1</text>
<text x="416.01" y="513.3" font-size="7" text-anchor="middle" fill="#231f20">*</text>
<text transform="translate(454.04,516) rotate(-45)" font-size="8.4" text-anchor="end" fill="#231f20" textLength="14.53" lengthAdjust="spacingAndGlyphs">MIG</text>
<text x="449.54" y="513.3" font-size="7" text-anchor="middle" fill="#231f20">*</text>
<rect x="0" y="0" width="520" height="1" fill="#000"/>
<rect x="0" y="0" width="1" height="548" fill="#000"/>
<rect x="519" y="0" width="1" height="548" fill="#000"/>
<rect x="0" y="546" width="520" height="1" fill="#9a9a9a"/>
<rect x="0" y="547" width="520" height="1" fill="#4a4a4a"/>
</svg>
</body></html>
